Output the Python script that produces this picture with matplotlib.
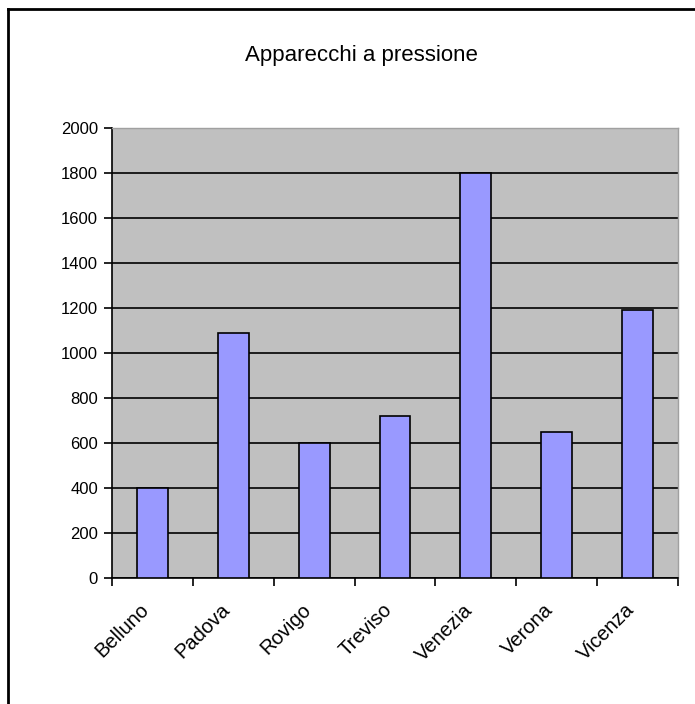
import matplotlib.pyplot as plt
from matplotlib.transforms import ScaledTranslation
import numpy as np

# data
provinces = ["Belluno", "Padova", "Rovigo", "Treviso", "Venezia", "Verona", "Vicenza"]
values = [400, 1090, 600, 720, 1800, 650, 1190]
y_ticks = [0, 200, 400, 600, 800, 1000, 1200, 1400, 1600, 1800, 2000]
title = "Apparecchi a pressione"


def main():
    plt.rcParams['font.family'] = ['Liberation Sans', 'DejaVu Sans']

    fig = plt.figure(figsize=(6.95, 7.04), dpi=100)
    ax = fig.add_axes([112 / 695, 1 - 578 / 704, (678 - 112) / 695, (578 - 128) / 704])

    x = np.arange(len(provinces))
    ax.set_facecolor('#C0C0C0')
    ax.set_axisbelow(True)
    ax.yaxis.grid(True, color='black', linewidth=1.2)
    ax.bar(x, values, width=0.38, color='#9999FF', edgecolor='black', linewidth=1.2, zorder=3)

    ax.set_xlim(-0.5, len(provinces) - 0.5)
    ax.set_ylim(0, 2000)
    ax.set_yticks(y_ticks)
    ax.tick_params(axis='y', direction='out', length=6, width=1.2, labelsize=12, pad=4)

    # labels at category centres, tick marks at category boundaries
    ax.set_xticks(x)
    ax.set_xticklabels(provinces, rotation=45, ha='right', rotation_mode='anchor', fontsize=14.5)
    ax.tick_params(axis='x', which='major', length=0, pad=16)
    shift = ScaledTranslation(-13 / 100, 0, fig.dpi_scale_trans)
    for lab in ax.get_xticklabels():
        lab.set_transform(lab.get_transform() + shift)
    ax.set_xticks(np.arange(-0.5, len(provinces)), minor=True)
    ax.tick_params(axis='x', which='minor', direction='out', length=6, width=1.2)

    for side in ['left', 'bottom']:
        ax.spines[side].set_color('black')
        ax.spines[side].set_linewidth(1.2)
    for side in ['top', 'right']:
        ax.spines[side].set_color('#A0A0A0')
        ax.spines[side].set_linewidth(1)

    fig.text(361 / 695, 1 - 56 / 704, title, ha='center', va='center', fontsize=16)

    # chart frame (top and left edges visible in the reference)
    fig.add_artist(plt.Line2D([8 / 695, 1], [1 - 9 / 704, 1 - 9 / 704], color='black', linewidth=2))
    fig.add_artist(plt.Line2D([8 / 695, 8 / 695], [0, 1 - 9 / 704], color='black', linewidth=2))

    fig.savefig('out.png', dpi=100)


if __name__ == "__main__":
    main()
